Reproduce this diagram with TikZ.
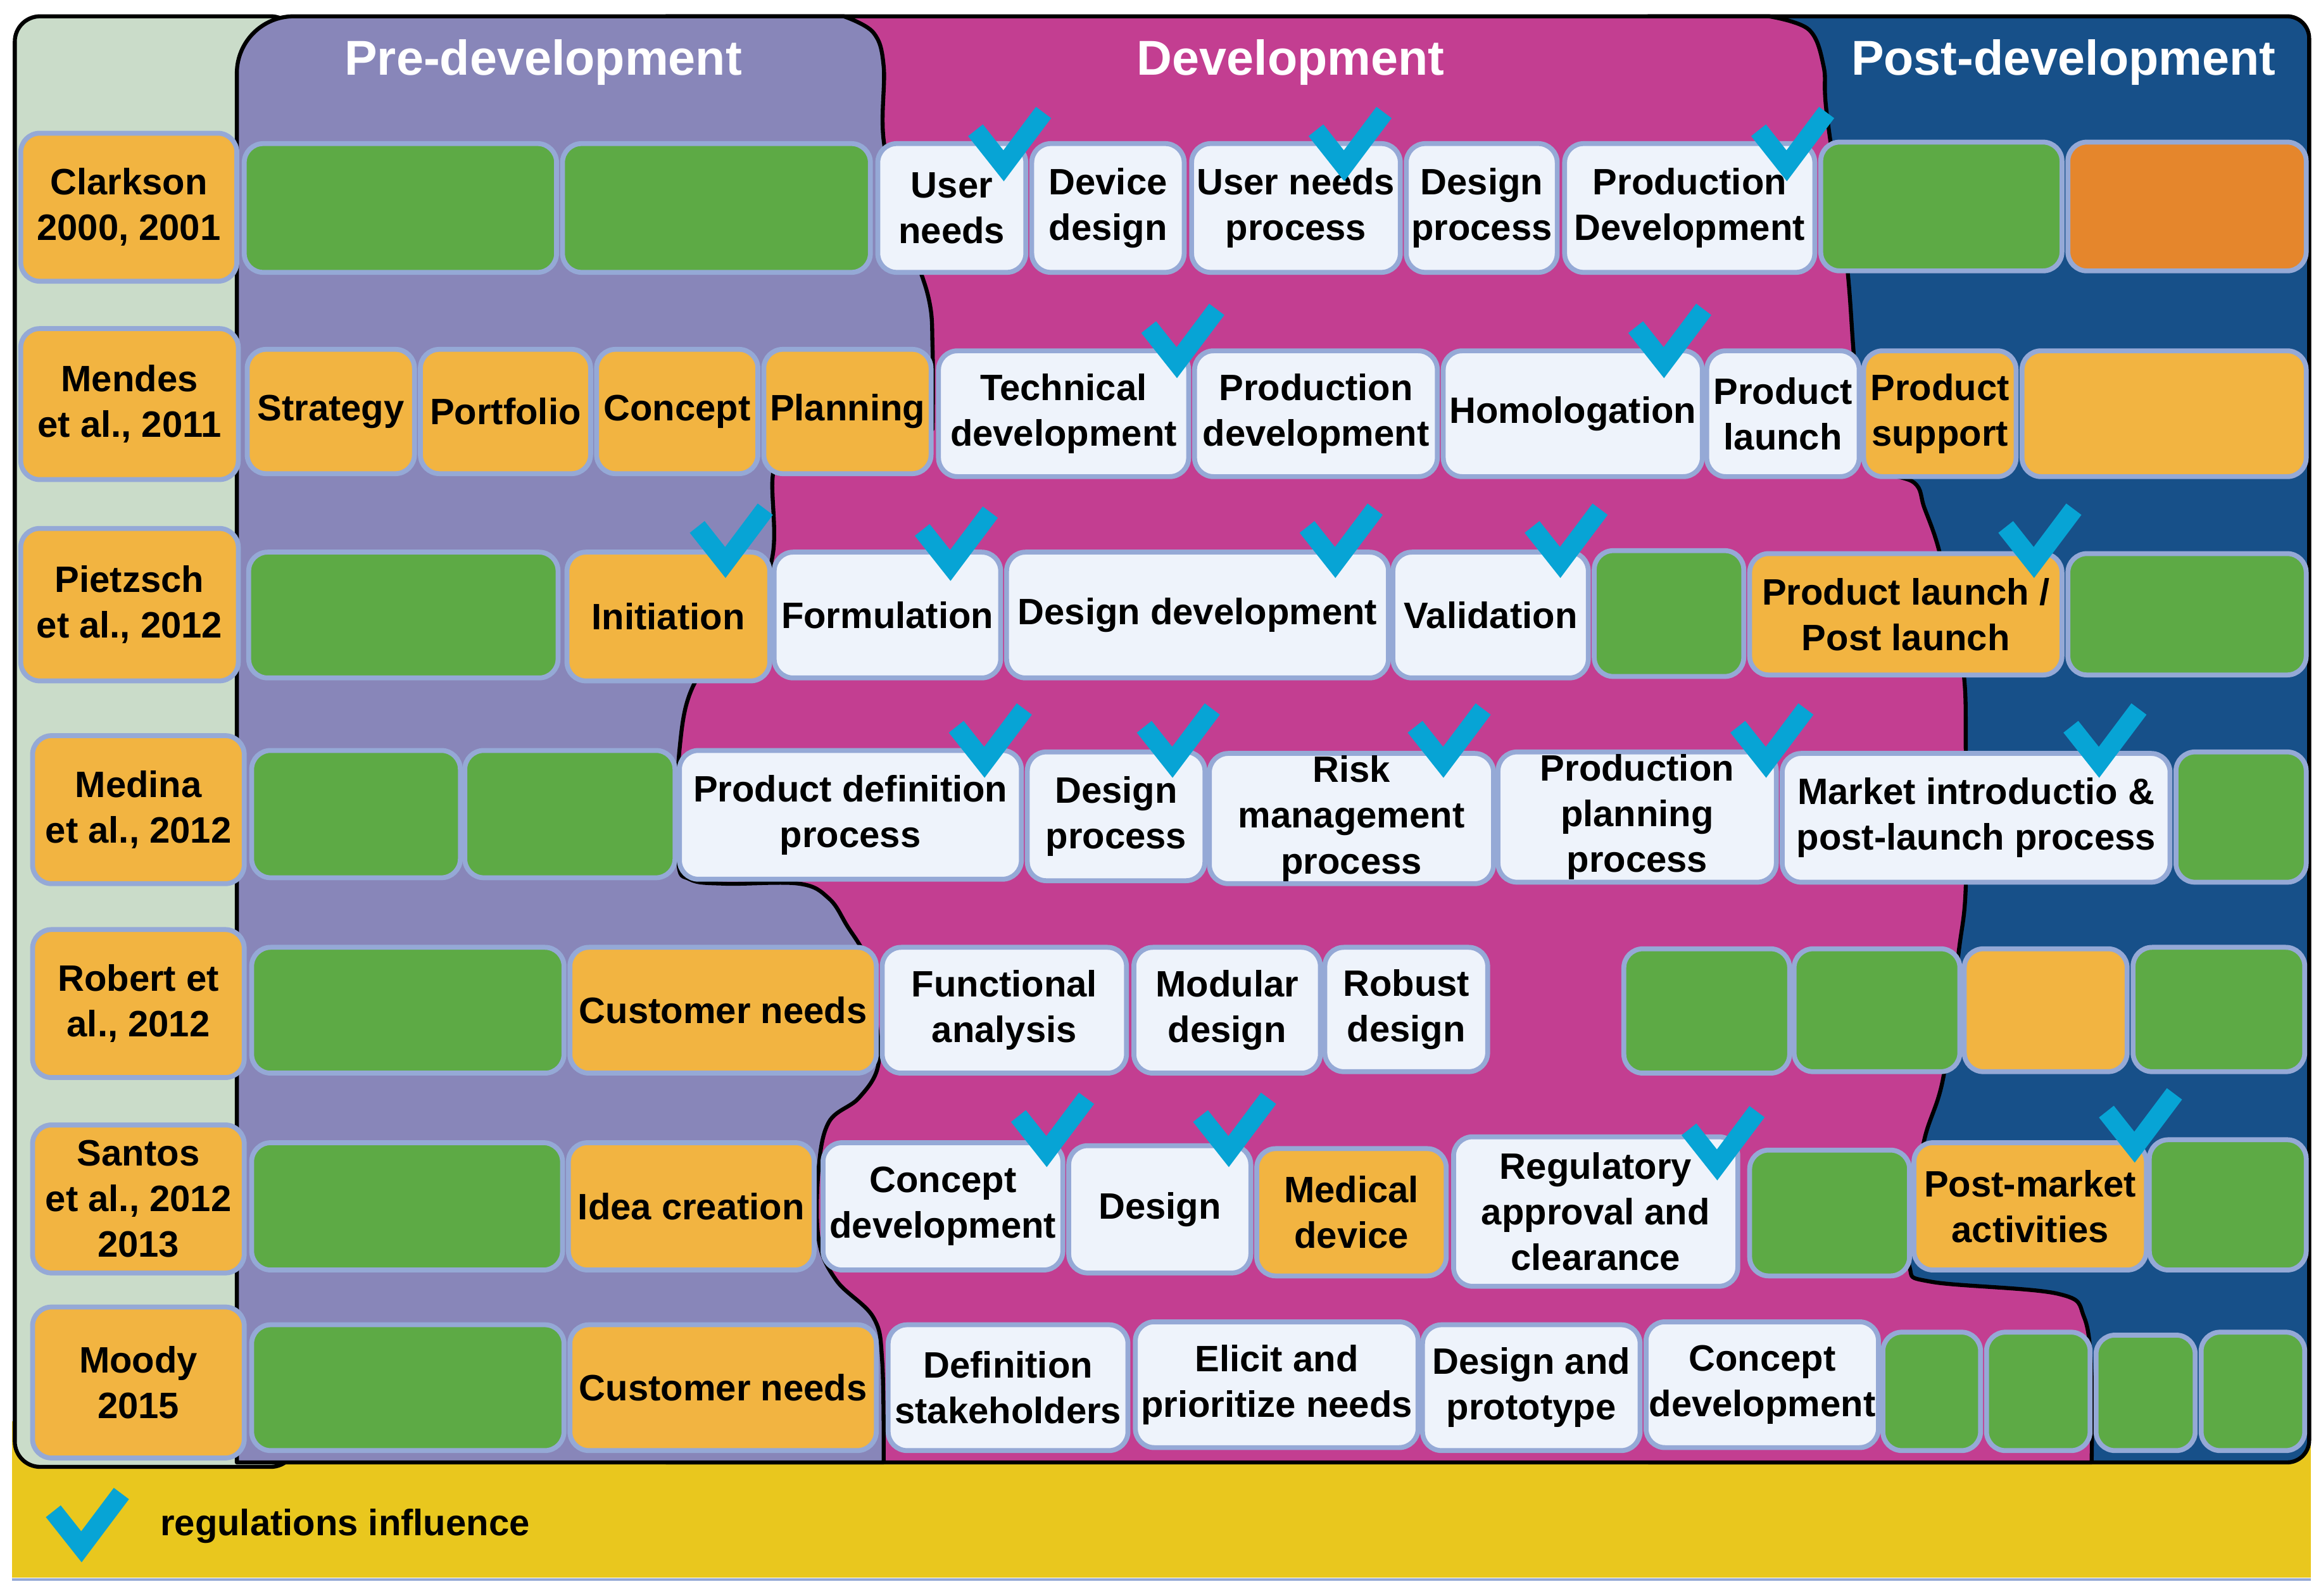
\documentclass[tikz,border=0pt]{standalone}
\usepackage{fontspec}
\setmainfont{Liberation Sans}
\definecolor{cgreen}{HTML}{5DAA45}
\definecolor{corange}{HTML}{F2B441}
\definecolor{cdorange}{HTML}{E5862C}
\definecolor{cpale}{HTML}{EEF3FB}
\definecolor{cborder}{HTML}{95A9D6}
\definecolor{cpurple}{HTML}{8886B9}
\definecolor{cmagenta}{HTML}{C33E91}
\definecolor{cblue}{HTML}{175089}
\definecolor{cltgreen}{HTML}{CADCC9}
\definecolor{cyellow}{HTML}{E9C71E}
\definecolor{ccheck}{HTML}{07A4D5}
\newcommand\bx[7]{%
  \pgfmathsetmacro\bxw{(#4-#2)*0.02338}%
  \pgfmathsetmacro\bxh{(#5-#3)*0.02338}%
  \node[cell, fill=#6, minimum width=\bxw cm, minimum height=\bxh cm] (#1) at ({(#2+#4)/2},{(#3+#5)/2}) {#7};}
\begin{document}
\begin{tikzpicture}[x=0.02338cm, y=-0.02338cm,
  cell/.style={draw=cborder, line width=2.2pt, rounded corners=0.3cm, inner sep=0pt,
    align=center, font=\bfseries\fontsize{16.5}{20.5}\selectfont, text=black},
  region/.style={draw=black, line width=1.8pt, line join=round},
  title/.style={text=white, font=\bfseries\fontsize{22}{26}\selectfont},
  tick/.style={draw=ccheck, line width=8.5pt, line cap=butt, line join=miter},
  chk/.pic={\draw[tick] (-19,-34) -- (0,-10) -- (27,-46);}]
\useasboundingbox (0,0) rectangle (1568,1078);
% background bands
\fill[cyellow] (8,960) rectangle (1561,1066);
\draw[cborder, line width=1.2pt] (8,1067) -- (1561,1067);
\filldraw[region, fill=cltgreen, rounded corners=0.4cm] (200,11) -- (10,11) -- (10,991) -- (200,991) -- cycle;
\filldraw[region, fill=cblue, rounded corners=0.35cm] (1100,11) -- (1560,11) -- (1560,988) -- (1100,988) -- cycle;
\filldraw[region, fill=cmagenta] (450,988) -- (450,11) -- (1195,11)
  -- plot[smooth, tension=0.6] coordinates {(1195,11) (1222,20) (1232,45) (1234,76) (1247,172) (1252,235) (1256,290) (1266,316) (1293,326) (1300,343) (1310,372) (1320,420) (1327,459) (1328,507) (1328,599) (1323,645) (1313,727) (1300,770) (1292,820) (1290,856) (1305,866) (1390,874) (1408,890) (1413,930) (1413,988)}
  -- cycle;
\filldraw[region, fill=cpurple] (160,988) [rounded corners=0.9cm] -- (160,11) [sharp corners] -- (570,11)
  -- plot[smooth, tension=0.6] coordinates {(570,11) (590,22) (597,45) (597,95) (610,150) (627,200) (630,235) (630,290)}
  -- plot[smooth, tension=0.6] coordinates {(560,290) (530,302) (522,322) (522,375) (505,420) (470,460) (459,507) (458,580) (466,594) (490,597) (540,597) (560,607) (572,625) (586,650) (592,690) (593,721) (580,742) (560,758) (553,790) (553,837) (565,865) (590,890) (596,920) (597,988)}
  -- cycle;
% titles
\node[title] (tpre) at (367,42) {Pre-development};
\node[title] (tdev) at (872,42) {Development};
\node[title] (tpost) at (1394,42) {Post-development};
% row 1
\bx{lab1}{14}{90}{160}{190}{corange}{Clarkson\\2000, 2001}
\bx{r1a}{165}{97}{376}{184}{cgreen}{}
\bx{r1b}{380}{97}{588}{184}{cgreen}{}
\bx{r1c}{593}{97}{693}{184}{cpale}{User\\needs}
\bx{r1d}{697}{97}{800}{184}{cpale}{Device\\design}
\bx{r1e}{805}{97}{946}{184}{cpale}{User needs\\process}
\bx{r1f}{950}{97}{1052}{184}{cpale}{Design\\process}
\bx{r1g}{1057}{97}{1226}{184}{cpale}{Production\\Development}
\bx{r1h}{1230}{96}{1393}{183}{cgreen}{}
\bx{r1i}{1397}{96}{1558}{183}{cdorange}{}
% row 2
\bx{lab2}{14}{222}{161}{324}{corange}{Mendes\\et al., 2011}
\bx{r2a}{167}{236}{280}{320}{corange}{Strategy}
\bx{r2b}{284}{236}{399}{320}{corange}{Portfolio}
\bx{r2c}{403}{236}{512}{320}{corange}{Concept}
\bx{r2d}{516}{236}{629}{320}{corange}{Planning}
\bx{r2e}{634}{237}{803}{322}{cpale}{Technical\\development}
\bx{r2f}{807}{237}{971}{322}{cpale}{Production\\development}
\bx{r2g}{975}{237}{1150}{322}{cpale}{Homologation}
\bx{r2h}{1153}{237}{1256}{322}{cpale}{Product\\launch}
\bx{r2i}{1259}{237}{1362}{322}{corange}{Product\\support}
\bx{r2j}{1366}{237}{1558}{322}{corange}{}
% row 3
\bx{lab3}{14}{357}{161}{460}{corange}{Pietzsch\\et al., 2012}
\bx{r3a}{168}{373}{377}{458}{cgreen}{}
\bx{r3b}{383}{373}{520}{460}{corange}{Initiation}
\bx{r3c}{523}{373}{676}{458}{cpale}{Formulation}
\bx{r3d}{680}{373}{938}{458}{cpale}{Design development}
\bx{r3e}{941}{373}{1073}{458}{cpale}{Validation}
\bx{r3f}{1077}{372}{1178}{457}{cgreen}{}
\bx{r3g}{1182}{374}{1393}{456}{corange}{Product launch /\\Post launch}
\bx{r3h}{1397}{374}{1558}{456}{cgreen}{}
% row 4
\bx{lab4}{22}{497}{165}{597}{corange}{Medina\\et al., 2012}
\bx{r4a}{170}{507}{311}{593}{cgreen}{}
\bx{r4b}{314}{507}{456}{593}{cgreen}{}
\bx{r4c}{459}{507}{690}{594}{cpale}{Product definition\\process}
\bx{r4d}{694}{508}{814}{595}{cpale}{Design\\process}
\bx{r4e}{817}{509}{1009}{597}{cpale}{Risk\\management\\process}
\bx{r4f}{1012}{508}{1200}{596}{cpale}{Production\\planning\\process}
\bx{r4g}{1204}{509}{1466}{596}{cpale}{Market introductio \&\\post-launch process}
\bx{r4h}{1470}{508}{1558}{596}{cgreen}{}
% row 5
\bx{lab5}{22}{628}{165}{728}{corange}{Robert et\\al., 2012}
\bx{r5a}{170}{640}{381}{725}{cgreen}{}
\bx{r5b}{385}{640}{592}{725}{corange}{Customer needs}
\bx{r5c}{596}{640}{761}{725}{cpale}{Functional\\analysis}
\bx{r5d}{766}{640}{892}{725}{cpale}{Modular\\design}
\bx{r5e}{895}{640}{1005}{724}{cpale}{Robust\\design}
\bx{r5f}{1097}{641}{1209}{725}{cgreen}{}
\bx{r5g}{1212}{641}{1324}{724}{cgreen}{}
\bx{r5h}{1327}{641}{1437}{724}{corange}{}
\bx{r5i}{1441}{640}{1557}{724}{cgreen}{}
% row 6
\bx{lab6}{22}{760}{165}{860}{corange}{Santos\\et al., 2012\\2013}
\bx{r6a}{170}{772}{380}{858}{cgreen}{}
\bx{r6b}{384}{772}{550}{858}{corange}{Idea creation}
\bx{r6c}{556}{772}{718}{858}{cpale}{Concept\\development}
\bx{r6d}{722}{774}{845}{860}{cpale}{Design}
\bx{r6e}{849}{776}{977}{862}{corange}{Medical\\device}
\bx{r6f}{982}{768}{1174}{869}{cpale}{Regulatory\\approval and\\clearance}
\bx{r6g}{1182}{777}{1290}{862}{cgreen}{}
\bx{r6h}{1293}{772}{1450}{858}{corange}{Post-market\\activities}
\bx{r6i}{1452}{770}{1558}{858}{cgreen}{}
% row 7
\bx{lab7}{22}{883}{165}{985}{corange}{Moody\\2015}
\bx{r7a}{170}{895}{381}{980}{cgreen}{}
\bx{r7b}{385}{895}{592}{980}{corange}{Customer needs}
\bx{r7c}{600}{895}{762}{980}{cpale}{Definition\\stakeholders}
\bx{r7d}{767}{893}{958}{978}{cpale}{Elicit and\\prioritize needs}
\bx{r7e}{961}{895}{1108}{980}{cpale}{Design and\\prototype}
\bx{r7f}{1112}{893}{1269}{978}{cpale}{Concept\\development}
\bx{r7g}{1272}{900}{1338}{980}{cgreen}{}
\bx{r7h}{1342}{900}{1412}{980}{cgreen}{}
\bx{r7i}{1416}{902}{1483}{980}{cgreen}{}
\bx{r7j}{1487}{900}{1557}{980}{cgreen}{}
% checks
\foreach \cx/\cy in {678/122, 908/122, 1207/122, 795/255, 1124/255,
  490/390, 642/392, 902/390, 1054/390, 1374/390,
  665/525, 792/525, 975/525, 1193/525, 1418/525,
  707/788, 830/788, 1160/797, 1442/785, 55/1055}
  \pic at (\cx,\cy) {chk};
% legend
\node[anchor=west, font=\bfseries\fontsize{16.5}{20}\selectfont] (legend) at (103,1031) {regulations influence};
\end{tikzpicture}
\end{document}
